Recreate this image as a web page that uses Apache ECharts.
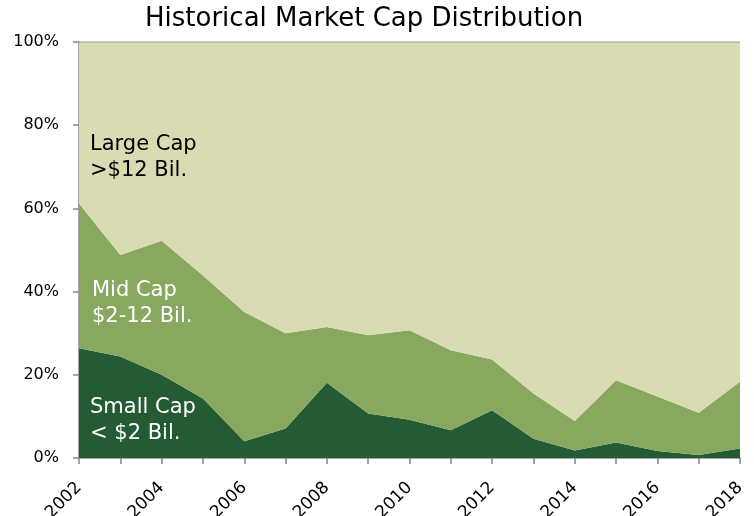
<!DOCTYPE html>
<html>
<head>
<meta charset="utf-8">
<script src="https://cdn.jsdelivr.net/npm/echarts@6/dist/echarts.min.js"></script>
<style>
  html, body { margin: 0; padding: 0; background: #fff; }
  #chart { width: 754px; height: 516px; }
</style>
</head>
<body>
<div id="chart"></div>
<script>
// years on the x axis
var years = ['2002', '2003', '2004', '2005', '2006', '2007', '2008', '2009', '2010',
  '2011', '2012', '2013', '2014', '2015', '2016', '2017', '2018']

// share of total market cap, in percent
var smallCap = [26.4, 24.4, 20.0, 14.3, 4.0, 7.1, 18.1, 10.7, 9.2, 6.7, 11.5, 4.6, 1.8, 3.7, 1.7, 0.7, 2.3]
var midCap = [34.8, 24.4, 32.2, 29.6, 31.1, 22.9, 13.4, 18.8, 21.5, 19.2, 12.2, 10.9, 7.1, 15.0, 13.1, 10.2, 16.0]
var largeCap = [38.8, 51.2, 47.8, 56.1, 64.9, 70.0, 68.5, 70.5, 69.3, 74.1, 76.3, 84.5, 91.1, 81.3, 85.2, 89.1, 81.7]

var font = 'DejaVu Sans, Verdana, sans-serif'

var chart = echarts.init(document.getElementById('chart'), null, { renderer: 'canvas' })

function areaSeries(name, data, color, line) {
  return {
    name: name,
    type: 'line',
    stack: 'cap',
    data: data,
    symbol: 'none',
    lineStyle: line || { width: 0 },
    areaStyle: { color: color, opacity: 1 },
    silent: true,
    animation: false
  }
}

chart.setOption({
  animation: false,
  title: {
    text: 'Historical Market Cap Distribution',
    left: 140,
    top: 1,
    textStyle: {
      fontFamily: font,
      fontSize: 26,
      fontWeight: 'normal',
      color: '#000'
    }
  },
  grid: {
    left: 79,
    right: 14,
    top: 42,
    bottom: 58,
    outerBoundsMode: 'none'
  },
  xAxis: {
    type: 'category',
    data: years,
    boundaryGap: false,
    axisLine: { lineStyle: { color: '#888', width: 1.5 } },
    axisTick: { show: true, interval: 0, length: 6, lineStyle: { color: '#888', width: 1.5 } },
    axisLabel: {
      interval: 1,
      rotate: 45,
      margin: 27,
      fontFamily: font,
      fontSize: 17,
      color: '#000'
    },
    splitLine: { show: false }
  },
  yAxis: {
    type: 'value',
    min: 0,
    max: 100,
    interval: 20,
    axisLine: { show: true, lineStyle: { color: '#888', width: 1.5 } },
    axisTick: { show: true, length: 6, lineStyle: { color: '#888', width: 1.5 } },
    axisLabel: {
      formatter: '{value}%',
      margin: 20,
      fontFamily: font,
      fontSize: 16,
      color: '#000'
    },
    splitLine: { show: false }
  },
  series: [
    areaSeries('Small Cap', smallCap, '#245b35'),
    areaSeries('Mid Cap', midCap, '#88a85f'),
    // the top edge of the large cap area shows as a thin grey rule at 100%
    areaSeries('Large Cap', largeCap, '#d9dbb3', { width: 1.5, color: '#aaa' })
  ],
  graphic: [
    {
      type: 'text',
      left: 90,
      top: 132,
      z: 100,
      style: { text: 'Large Cap\n>$12 Bil.', fill: '#000', font: '21px ' + font, lineHeight: 26 }
    },
    {
      type: 'text',
      left: 92,
      top: 278,
      z: 100,
      style: { text: 'Mid Cap\n$2-12 Bil.', fill: '#fff', font: '21px ' + font, lineHeight: 26 }
    },
    {
      type: 'text',
      left: 90,
      top: 395,
      z: 100,
      style: { text: 'Small Cap\n< $2 Bil.', fill: '#fff', font: '21px ' + font, lineHeight: 26 }
    }
  ]
})
</script>
</body>
</html>
